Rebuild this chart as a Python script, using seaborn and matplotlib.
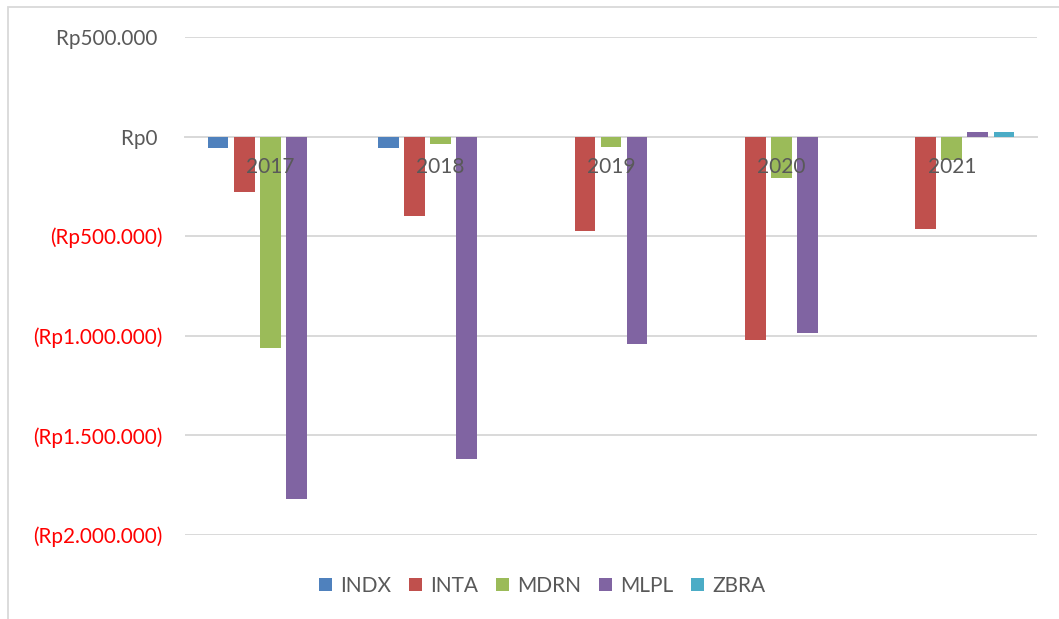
import numpy as np
import pandas as pd
import matplotlib
matplotlib.use("Agg")
import matplotlib.pyplot as plt
import seaborn as sns
from matplotlib.patches import Rectangle

# Net values per company and year (Rupiah)
years = ["2017", "2018", "2019", "2020", "2021"]
companies = ["INDX", "INTA", "MDRN", "MLPL", "ZBRA"]
indx = [-57000, -55000, 0, 0, 0]
inta = [-279000, -400000, -473000, -1023000, -466000]
mdrn = [-1063000, -38000, -53000, -209000, -118000]
mlpl = [-1820000, -1620000, -1043000, -988000, 24000]
zbra = [0, 0, 0, 0, 24000]
colors = ["#4F81BD", "#C0504D", "#9BBB59", "#8064A2", "#4BACC6"]
y_ticks = [-2000000, -1500000, -1000000, -500000, 0, 500000]

df = pd.DataFrame({
    "Tahun": years * len(companies),
    "Emiten": np.repeat(companies, len(years)),
    "Nilai": indx + inta + mdrn + mlpl + zbra,
})

sns.set_theme(style="white")
plt.rcParams["font.family"] = ["Lato", "DejaVu Sans"]

W, H = 1059, 619
fig = plt.figure(figsize=(W / 100, H / 100), dpi=100)
ax = fig.add_axes([185 / W, 1 - 535 / H, (1037 - 185) / W, (535 - 37) / H])

sns.barplot(data=df, x="Tahun", y="Nilai", hue="Emiten", hue_order=companies,
            palette=colors, saturation=1, width=0.765, gap=0.2, ax=ax,
            edgecolor="none")

handles, labels = ax.get_legend_handles_labels()
if ax.get_legend() is not None:
    ax.get_legend().remove()

grid_c = "#D9D9D9"
text_c = "#595959"

ax.set_ylim(-2000000, 500000)
ax.set_xlim(-0.5, 4.5)


def rp(v):
    s = f"{abs(v):,.0f}".replace(",", ".")
    return f"(Rp{s})" if v < 0 else f"Rp{s} "


ax.set_yticks(y_ticks, labels=[rp(v) for v in y_ticks])
for lab, v in zip(ax.get_yticklabels(), y_ticks):
    lab.set_color("#FF0000" if v < 0 else text_c)
ax.tick_params(axis="y", length=0, pad=16, labelsize=14.9)

ax.yaxis.grid(True, color=grid_c, linewidth=1.4)
ax.set_axisbelow(True)
# category labels sit on top of the bars
ax.xaxis.set_zorder(5)

for s in ["left", "top", "right"]:
    ax.spines[s].set_visible(False)
ax.spines["bottom"].set_position(("data", 0))
ax.spines["bottom"].set_color(grid_c)
ax.spines["bottom"].set_linewidth(1.4)
ax.spines["bottom"].set_zorder(0.5)

ax.set_xticks(np.arange(-0.5, 5, 1), minor=True)
ax.tick_params(axis="x", which="minor", length=6, width=1.4, color=grid_c,
               direction="out")
ax.tick_params(axis="x", which="major", length=0, pad=15, labelsize=15,
               labelcolor=text_c)
ax.set_xlabel("")
ax.set_ylabel("")

fig.legend(handles, labels, loc="center", bbox_to_anchor=(542 / W, 1 - 586 / H),
           ncol=5, frameon=False, fontsize=15, labelcolor=text_c,
           handlelength=0.62, handleheight=0.62, handletextpad=0.4,
           columnspacing=0.85)

# Chart-area border
fig.add_artist(Rectangle((8 / W, -0.05), 1.1, 1 - 7 / H + 0.05,
                         transform=fig.transFigure, fill=False,
                         edgecolor=grid_c, linewidth=1.3, clip_on=False))

fig.savefig("out.png", dpi=100)
